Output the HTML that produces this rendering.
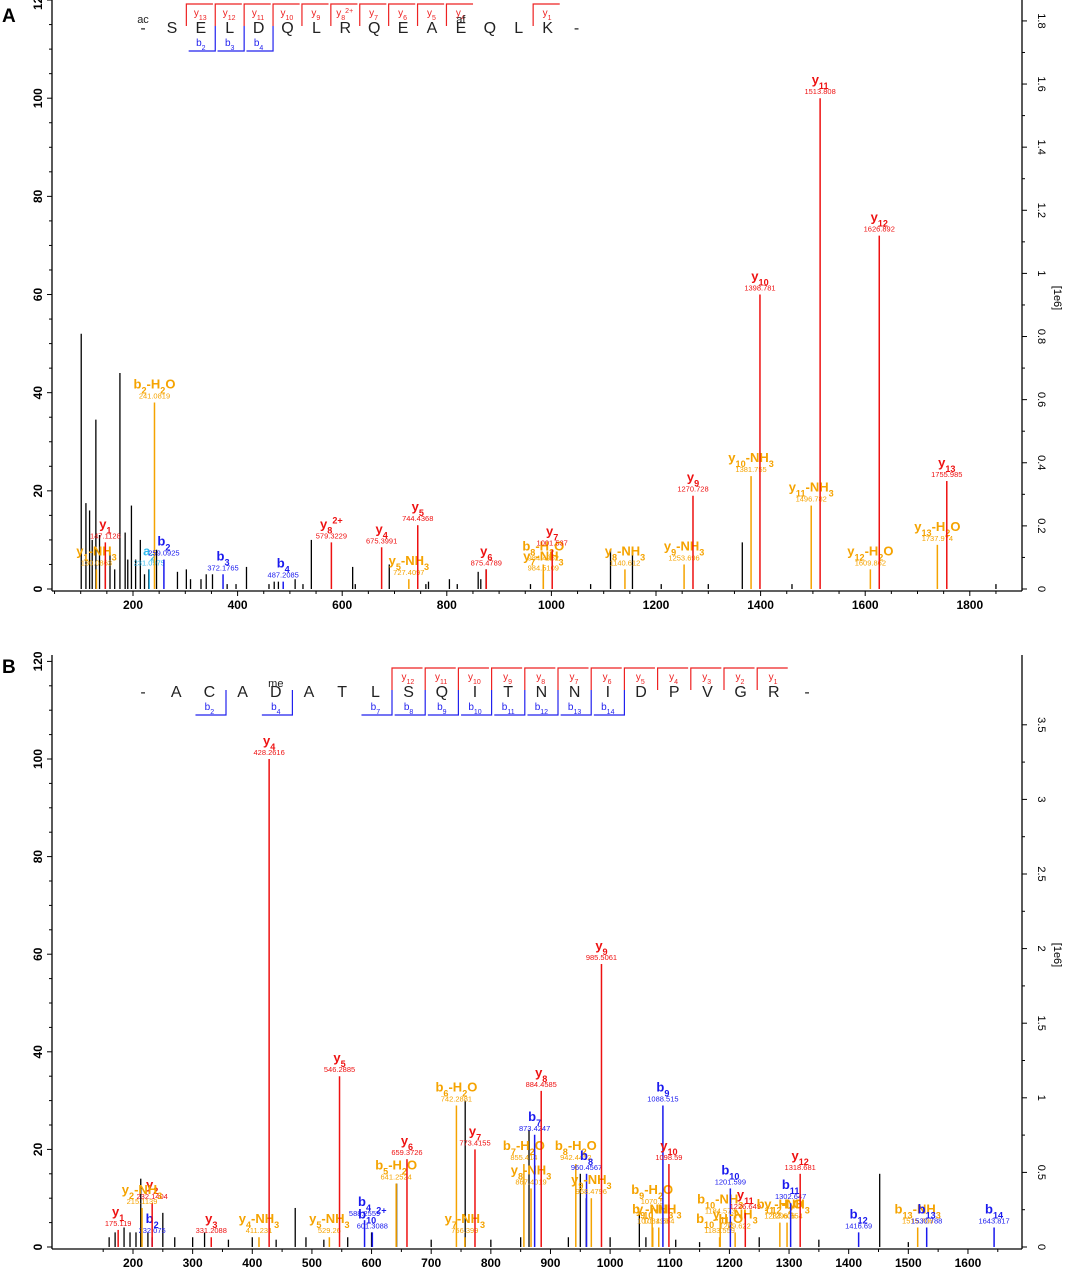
<!DOCTYPE html>
<html><head><meta charset="utf-8">
<style>
body{margin:0;background:#fff;font-family:"Liberation Sans",sans-serif;}
svg{display:block}
</style></head>
<body>
<svg id="fig" width="1065" height="1271" viewBox="0 0 1065 1271" xmlns="http://www.w3.org/2000/svg" font-family="Liberation Sans, sans-serif">
<text x="2" y="22" font-size="19" font-weight="bold">A</text>
<text x="2" y="673" font-size="19" font-weight="bold">B</text>
<g id="pa"></g>
<g id="pb"></g>
</svg>
<script>
// ---- Panel A data ----
const annMzA=[130.0863,147.1128,231.0975,241.0819,259.0925,372.1765,487.2085,579.3229,675.3991,727.4097,744.4368,875.4789,984.5109,984.4952,1001.537,1140.612,1253.696,1270.728,1381.755,1398.781,1496.782,1513.808,1609.862,1626.892,1737.974,1755.985];
const annIntA=[4,9.5,4,38,6,3,1.5,9.5,8.5,2,13,4,3,5,8,4,5,19,23,60,17,100,4,72,9,22];
const annLabA=["y1-NH3","y1","a2","b2-H2O","b2","b3","b4","y8^2+","y4","y5-NH3","y5","y6","y7-NH3","b8-H2O","y7","y8-NH3","y9-NH3","y9","y10-NH3","y10","y11-NH3","y11","y12-H2O","y12","y13-H2O","y13"];
const annTypeA=["n","y","a","n","b","b","b","y","y","n","y","y","n","n","y","n","n","y","n","y","n","y","n","y","n","y"];
const bgMzA=[101,110,117,122,129,136,147,156,165,175,185,190,197,205,214,222,230,245,285,302,310,330,340,352,380,397,417,460,470,478,510,525,541,620,625,690,760,765,805,820,860,865,875,960,1075,1113,1155,1210,1300,1365,1460,1850];
const bgIntA=[52,17.5,16,10,34.5,11,6,7.5,4,44,11.5,6,17,6,10,3,4,8,3.5,4,2,2,3,3,1,1,4.5,1,1.5,1.5,2,1,10,4.5,1,5,1,1.5,2,1,3.5,2,4,1,1,8,8,1,1,9.5,1,1];
const seqA=["-","S","E","L","D","Q","L","R","Q","E","A","E","Q","L","K","-"];
const yIonsA=["y13","y12","y11","y10","y9","y8^2+","y7","y6","y5","y4","","","y1"];
const bIonsA=["","b2","b3","b4"];
// ---- Panel B data ----
const annMzB=[175.119,232.075,232.1404,215.1139,331.2088,411.231,428.2616,529.26,546.2885,588.2559,601.3088,641.2524,659.3726,742.2881,756.399,773.4155,855.414,867.4019,873.4247,884.4585,942.4452,960.4567,968.4796,985.5061,1070.5,1071.499,1081.554,1088.515,1098.59,1183.559,1184.573,1201.599,1209.622,1226.649,1284.606,1296.654,1302.647,1318.681,1416.69,1515.706,1530.788,1643.817];
const annIntB=[3.5,2,9,8,2,2,100,2,35,5.5,3,13,18,29,2,20,17,12,23,32,17,15,10,58,8,4,4,29,17,2,6,12,3,7,5,5,9,15,3,4,4,4];
const annLabB=["y1","b2","y2","y2-NH3","y3","y4-NH3","y4","y5-NH3","y5","b4","b10^2+","b5-H2O","y6","b6-H2O","y7-NH3","y7","b7-H2O","y8-NH3","b7","y8","b8-H2O","b8","y9-NH3","y9","b9-H2O","b9-NH3","y10-NH3","b9","y10","b10-H2O","b10-NH3","b10","y11-NH3","y11","b11-H2O","y12-NH3","b11","y12","b12","b13-NH3","b13","b14"];
const annTypeB=["y","b","y","n","y","n","y","n","y","b","b","n","y","n","n","y","n","n","b","y","n","b","n","y","n","n","n","b","y","n","n","b","n","y","n","n","b","y","b","n","b","b"];
const bgMzB=[160,170,185,195,205,213,225,250,270,300,320,360,400,440,472,490,520,560,600,642,700,757,800,850,864,930,950,960,1000,1049,1060,1110,1150,1250,1350,1452,1500];
const bgIntB=[2,3,4,3,3,14,3,7,2,2,3,1.5,2,1.5,8,2,1.5,2,3,13,1.5,30,1.5,2,24,2,15,10,2,7,2,1.5,1,2,1.5,15,1];
const seqB=["-","A","C","A","D","A","T","L","S","Q","I","T","N","N","I","D","P","V","G","R","-"];
const yIonsB=["","","","","","","y12","y11","y10","y9","y8","y7","y6","y5","y4","y3","y2","y1"];
const bIonsB=["","b2","","b4","","","b7","b8","b9","b10","b11","b12","b13","b14"];

const NS="http://www.w3.org/2000/svg";
const COL={y:"#ee1111",b:"#1a1aee",n:"#f5a300",a:"#33bbee"};
function mk(parent,tag,attrs){const e=document.createElementNS(NS,tag);for(const k in attrs)e.setAttribute(k,attrs[k]);parent.appendChild(e);return e;}
function ionText(parent,x,y,label,size,color,weight){
  const t=mk(parent,"text",{x:x,y:y,"text-anchor":"middle","font-size":size,fill:color,"font-weight":weight});
  const parts=label.split("^");
  parts.forEach((p,pi)=>{
    const re=/(\d+|[^\d]+)/g;let m;
    while((m=re.exec(p))){
      const s=document.createElementNS(NS,"tspan");
      s.textContent=m[0];
      if(pi>0){s.setAttribute("font-size",size*0.7);s.setAttribute("baseline-shift","super");}
      else if(/\d/.test(m[0])){s.setAttribute("font-size",size*0.7);s.setAttribute("baseline-shift","sub");}
      t.appendChild(s);
    }
  });
  return t;
}
function panel(g,cfg){
  const X=m=>cfg.x0+(m-cfg.m0)*cfg.kx;
  const Y=v=>cfg.yb-v*cfg.ky;
  mk(g,"line",{x1:cfg.left,y1:cfg.top,x2:cfg.left,y2:cfg.yb+2,stroke:"#000","stroke-width":1.3});
  mk(g,"line",{x1:cfg.right,y1:cfg.top,x2:cfg.right,y2:cfg.yb+2,stroke:"#000","stroke-width":1.3});
  mk(g,"line",{x1:cfg.left,y1:cfg.yb+2,x2:cfg.right,y2:cfg.yb+2,stroke:"#000","stroke-width":1.3});
  for(let v=0;v<=120;v+=5){
    const maj=v%20===0;
    mk(g,"line",{x1:cfg.left-(maj?5:3),y1:Y(v),x2:cfg.left,y2:Y(v),stroke:"#000"});
    if(maj){const t=mk(g,"text",{x:0,y:0,"font-size":12,"font-weight":"bold","text-anchor":"middle",transform:`translate(${cfg.left-10},${Y(v)}) rotate(-90)`});t.textContent=v;
      }
  }
  for(let v=0;v<=cfg.rmax+1e-9;v+=cfg.rstep/2){
    const maj=Math.abs(v/cfg.rstep-Math.round(v/cfg.rstep))<1e-6;
    const yy=cfg.yb-v*cfg.rk;
    mk(g,"line",{x1:cfg.right,y1:yy,x2:cfg.right+(maj?5:3),y2:yy,stroke:"#000"});
    if(maj){const t=mk(g,"text",{x:0,y:0,"font-size":11,"text-anchor":"middle",transform:`translate(${cfg.right+16},${yy}) rotate(90)`});t.textContent=+v.toFixed(1);
      }
  }
  const ru=mk(g,"text",{x:0,y:0,"font-size":11,"text-anchor":"middle",transform:`translate(${cfg.right+32},${cfg.runitY}) rotate(90)`});ru.textContent="[1e6]";
  
  for(let m=cfg.xmin;m<=cfg.xmax;m+=cfg.xminor){
    const maj=m%cfg.xstep===0;const xx=X(m);
    if(xx<cfg.left||xx>cfg.right)continue;
    mk(g,"line",{x1:xx,y1:cfg.yb+2,x2:xx,y2:cfg.yb+(maj?7:5),stroke:"#000"});
    if(maj){const t=mk(g,"text",{x:xx,y:cfg.yb+20,"font-size":12,"font-weight":"bold","text-anchor":"middle"});t.textContent=m;
      }
  }
  cfg.bgMz.forEach((m,i)=>{
    const l=mk(g,"line",{x1:X(m),y1:cfg.yb,x2:X(m),y2:Y(cfg.bgInt[i]),stroke:"#000","stroke-width":1.3});
    
  });
  cfg.mz.forEach((m,i)=>{
    const c=COL[cfg.type[i]];const xx=X(m),top=Y(cfg.int[i]);
    const l=mk(g,"line",{x1:xx,y1:cfg.yb,x2:xx,y2:top,stroke:c,"stroke-width":1.5});
    
    const t=ionText(g,xx,top-14,cfg.lab[i],13,c,"bold");
    
    const s=mk(g,"text",{x:xx,y:top-4,"font-size":7.5,"text-anchor":"middle",fill:c});s.textContent=m;
    
  });
  const sx=i=>cfg.sx0+i*cfg.sdx;
  cfg.seq.forEach((a,i)=>{
    const t=mk(g,"text",{x:sx(i),y:cfg.sy,"font-size":16,"text-anchor":"middle",fill:"#222"});t.textContent=a;
    
  });
  cfg.yIons.forEach((n,i)=>{
    if(!n)return;const bx=sx(i+1)+cfg.sdx/2;
    const p=mk(g,"polyline",{points:`${bx},${cfg.sy-7} ${bx},${cfg.sy-29} ${bx+cfg.sdx*0.92},${cfg.sy-29}`,fill:"none",stroke:"#ee2222","stroke-width":1.2});
    
    const t=ionText(g,bx+cfg.sdx*0.48,cfg.sy-17,n,10,"#ee2222","normal");
    
  });
  cfg.bIons.forEach((n,i)=>{
    if(!n)return;const bx=(sx(i+1)+sx(i+2))/2;
    const p=mk(g,"polyline",{points:`${bx},${cfg.sy-7} ${bx},${cfg.sy+18} ${bx-cfg.sdx*0.92},${cfg.sy+18}`,fill:"none",stroke:"#2222ee","stroke-width":1.2});
    
    const t=ionText(g,bx-cfg.sdx*0.5,cfg.sy+13,n,10,"#2222ee","normal");
    
  });
  cfg.mods.forEach(([i,txt])=>{const t=mk(g,"text",{x:sx(i),y:cfg.sy-10,"font-size":11,"text-anchor":"middle",fill:"#222"});t.textContent=txt;
    });
}
panel(document.getElementById("pa"),{x0:133,m0:200,kx:0.523,yb:589,ky:4.908,left:52,right:1022,top:0,
  rmax:1.8,rstep:0.2,rk:315.6,runitY:298,xmin:50,xmax:1900,xstep:200,xminor:50,
  mz:annMzA,int:annIntA,lab:annLabA,type:annTypeA,bgMz:bgMzA,bgInt:bgIntA,
  seq:seqA,yIons:yIonsA,bIons:bIonsA,sx0:143,sdx:28.9,sy:33,mods:[[0,"ac"],[11,"af"]]});
panel(document.getElementById("pb"),{x0:133,m0:200,kx:0.5964,yb:1247,ky:4.88,left:52,right:1022,top:655,
  rmax:3.5,rstep:0.5,rk:149.2,runitY:955,xmin:150,xmax:1700,xstep:100,xminor:50,
  mz:annMzB,int:annIntB,lab:annLabB,type:annTypeB,bgMz:bgMzB,bgInt:bgIntB,
  seq:seqB,yIons:yIonsB,bIons:bIonsB,sx0:143,sdx:33.2,sy:697,mods:[[4,"me"]]});
</script>
</body></html>
